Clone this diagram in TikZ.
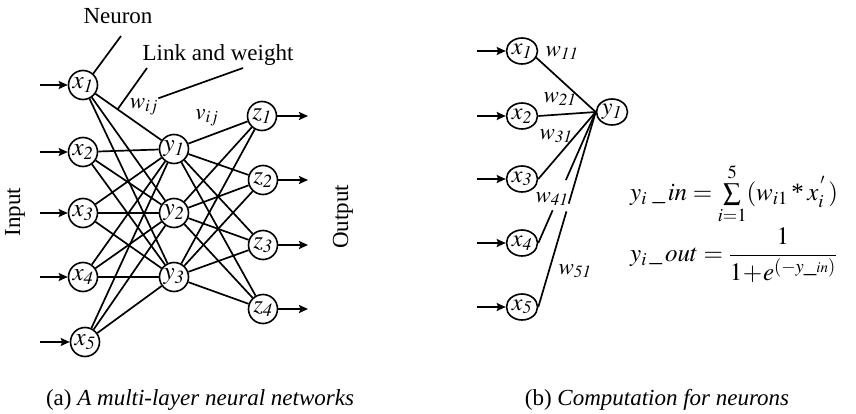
\documentclass[tikz,border=0pt]{standalone}
\usepackage{mathptmx}
\usepackage{fontspec}
\setmainfont{Liberation Serif}
\usetikzlibrary{arrows.meta,shapes.geometric,calc}

\tikzset{
  txt/.style={font=\fontsize{23}{26}\selectfont,inner sep=0pt},
  formula/.style={font=\fontsize{25}{28}\selectfont,inner sep=0pt,anchor=west},
  neuron/.style={circle,draw,line width=1.6pt,minimum size=29pt,inner sep=0pt,
    font=\fontsize{25}{26}\selectfont},
  rneuron/.style={ellipse,draw,line width=1.6pt,minimum width=31pt,minimum height=26pt,
    inner sep=0pt,font=\fontsize{24}{25}\selectfont},
  link/.style={line width=1.7pt},
  feed/.style={line width=1.8pt,-{Stealth[length=9pt,width=8pt,inset=1.5pt]}},
}

\begin{document}
\begin{tikzpicture}[x=1pt,y=-1pt]
\useasboundingbox (0,0) rectangle (856,414);

% ---------- (a) multi-layer network ----------
\node[neuron] (x1) at (83,85)  {$x_{\mathit{1}}$};
\node[neuron] (x2) at (83,152) {$x_{\mathit{2}}$};
\node[neuron] (x3) at (83,213) {$x_{\mathit{3}}$};
\node[neuron] (x4) at (83,277) {$x_{\mathit{4}}$};
\node[neuron] (x5) at (85,342) {$x_{\mathit{5}}$};

\node[neuron] (y1) at (174,149) {$y_{\mathit{1}}$};
\node[neuron] (y2) at (174,213) {$y_{\mathit{2}}$};
\node[neuron] (y3) at (174,277) {$y_{\mathit{3}}$};

\node[neuron] (z1) at (262,116) {$z_{\mathit{1}}$};
\node[neuron] (z2) at (263,180) {$z_{\mathit{2}}$};
\node[neuron] (z3) at (263,245) {$z_{\mathit{3}}$};
\node[neuron] (z4) at (263,309) {$z_{\mathit{4}}$};

% inputs and outputs
\foreach \i/\yy in {1/85,2/152,3/213,4/277,5/342}{
  \coordinate (in\i) at (40,\yy);
  \draw[feed] (in\i) -- (x\i);
}
\foreach \k/\yy in {1/116,2/180,3/245,4/309}{
  \coordinate (out\k) at (308,\yy);
  \draw[feed] (z\k) -- (out\k);
}

% fully connected layers
\foreach \i in {1,...,5}
  \foreach \j in {1,2,3}
    \draw[link] (x\i) -- (y\j);
\foreach \j in {1,2,3}
  \foreach \k in {1,...,4}
    \draw[link] (y\j) -- (z\k);

% annotations
\node[txt] (neuronlbl) at (118,16) {Neuron};
\coordinate (na) at (121,36);
\draw[link] (na) -- (x1.48);

\node[txt] (lwlbl) at (218,55) {Link and weight};
\node[txt] (wij) at (144,107) {$w_{ij}$};
\node[txt] (vij) at (207,118) {$v_{ij}$};
\coordinate (lwa) at (147,68);
\coordinate (lwb) at (243,68);
\coordinate (onlink) at ($(x1)!0.38!(y1)$);
\draw[link] (lwa) -- (onlink);
\draw[link] (lwb) -- (wij.north east);

\node[txt,rotate=90] (inlbl) at (15,212) {Input};
\node[txt,rotate=90] (outlbl) at (343,217) {Output};

\node[txt] (capa) at (200,400) {(a) \textit{A multi-layer neural networks}};

% ---------- (b) single neuron ----------
\node[rneuron] (r1) at (522,51)  {$x_{\mathit{1}}$};
\node[rneuron] (r2) at (522,116) {$x_{\mathit{2}}$};
\node[rneuron] (r3) at (522,179) {$x_{\mathit{3}}$};
\node[rneuron] (r4) at (522,243) {$x_{\mathit{4}}$};
\node[rneuron] (r5) at (522,307) {$x_{\mathit{5}}$};
\node[rneuron] (ry) at (612,112) {$y_{\mathit{1}}$};

\foreach \i/\yy in {1/51,2/116,3/179,4/243,5/307}{
  \coordinate (rin\i) at (477,\yy);
  \draw[feed] (rin\i) -- (r\i);
}

\coordinate (hub) at (ry.west);
\draw[link] (r1.-25) -- (hub);
\draw[link] (r2.east) -- (hub);
\draw[link] (r3.east) -- (hub);
\draw[link] (r4.east) -- ($(r4.east)!0.25!(hub)$);
\draw[link] ($(r4.east)!0.48!(hub)$) -- (hub);
\draw[link] (r5.east) -- ($(r5.east)!0.49!(hub)$);
\draw[link] ($(r5.east)!0.53!(hub)$) -- (hub);

\node[txt] (w11) at (562,53)  {$w_{\mathit{11}}$};
\node[txt] (w21) at (560,99)  {$w_{\mathit{21}}$};
\node[txt] (w31) at (556,136) {$w_{\mathit{31}}$};
\node[txt] (w41) at (552,199) {$w_{\mathit{41}}$};
\node[txt] (w51) at (575,271) {$w_{\mathit{51}}$};

\node[formula] (fin) at (630,194)
  {$y_i\;\_\,in=\sum\limits_{i=1}^{5}(w_{i1}\mathbin{\mbox{*}}x_i^{\,'}\,)$};
\node[formula] (fout) at (630,255)
  {$y_i\,\_\,out=\displaystyle\frac{1}{1\!+\!e^{(-y\_{\scriptscriptstyle in})}}$};

\node[txt] (capb) at (657,400) {(b) \textit{Computation for neurons}};
\end{tikzpicture}
\end{document}
